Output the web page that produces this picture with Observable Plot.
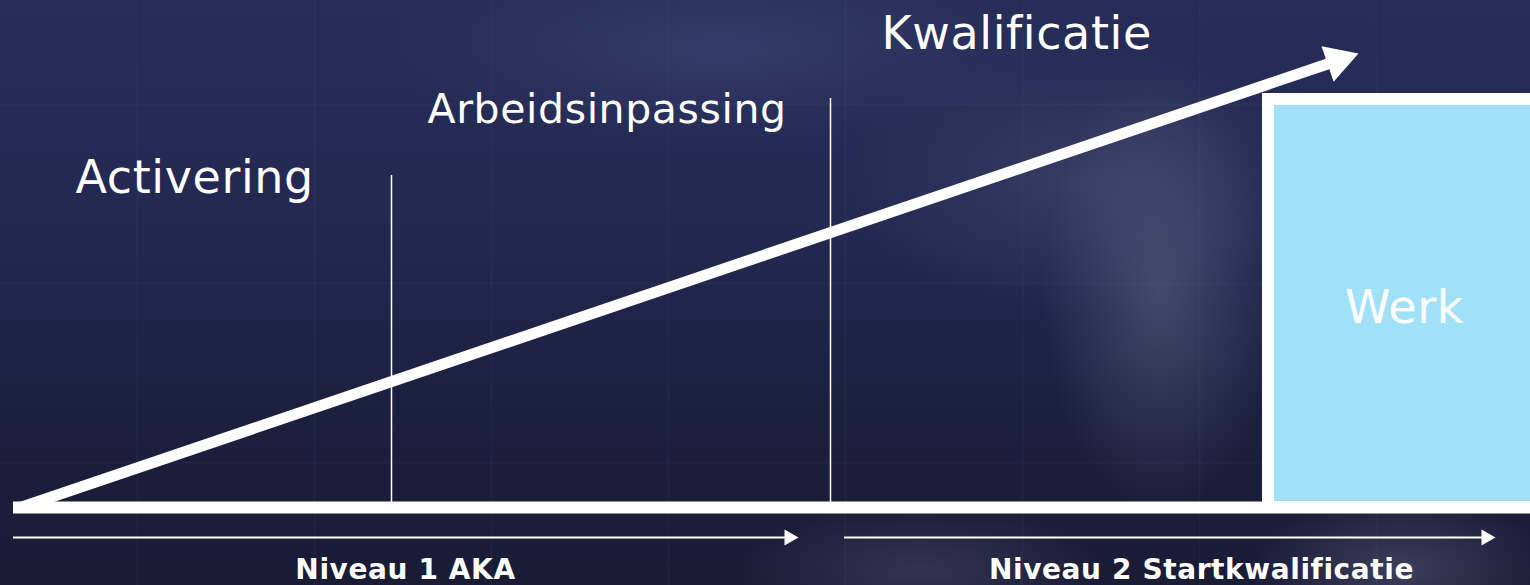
<!DOCTYPE html>
<html>
<head>
<meta charset="utf-8">
<script src="https://cdn.jsdelivr.net/npm/d3@7"></script>
<script src="https://cdn.jsdelivr.net/npm/@observablehq/plot@0.6"></script>
<style>
  html, body { margin: 0; padding: 0; width: 1530px; height: 585px; overflow: hidden; }
  body {
    background:
      radial-gradient(ellipse 140px 260px at 1160px 290px, rgba(96,100,130,0.55), rgba(96,100,130,0) 85%),
      radial-gradient(ellipse 300px 170px at 1080px 180px, rgba(88,94,130,0.35), rgba(88,94,130,0) 80%),
      radial-gradient(ellipse 420px 120px at 720px 50px, rgba(80,90,140,0.32), rgba(80,90,140,0) 80%),
      radial-gradient(ellipse 180px 90px at 1400px 570px, rgba(88,90,118,0.55), rgba(88,90,118,0) 85%),
      radial-gradient(ellipse 220px 80px at 920px 570px, rgba(78,82,112,0.45), rgba(78,82,112,0) 85%),
      linear-gradient(180deg, #262d58 0%, #222850 40%, #1b1e3c 75%, #1a1c36 100%);
  }
  #chart svg { display: block; overflow: hidden; }
</style>
</head>
<body>
<div id="chart"></div>
<script>
// ---- data (x: px from left, y: px above the baseline) ----
const stageLabels   = ["Activering", "Arbeidsinpassing", "Kwalificatie"];
const stageLabelX   = [75, 427, 881];
const stageLabelY   = [315, 385, 459];
const stageFontSize = [46, 41, 46];

const dividerX   = [391, 830];
const dividerTop = [332, 409];

const arrowStart = [20, 0];
const arrowTip   = [1358, 454];

const baselineX = [13, 1530];

const levelLabels = ["Niveau 1 AKA", "Niveau 2 Startkwalificatie"];
const levelStart  = [13, 844];
const levelEnd    = [798, 1495];
const levelY      = -30;
const levelLabelX = [405, 1201];
const levelLabelY = -71;

const goalLabel  = "Werk";
const goalX      = [1268, 1545];
const goalTop    = 408;
const goalLabelX = 1404;
const goalLabelY = 185;

const gridX = [137, 314, 491, 668, 845, 1022, 1199, 1376];
const gridY = [403, 224, 45];

// ---- derived tables ----
const stages = stageLabels.map((t, i) => ({text: t, x: stageLabelX[i], y: stageLabelY[i], size: stageFontSize[i]}));
const dividers = dividerX.map((x, i) => ({x, top: dividerTop[i]}));
const levels = levelLabels.map((t, i) => ({text: t, x1: levelStart[i], x2: levelEnd[i], lx: levelLabelX[i]}));

const mainR = 14, smallR = 6;
const tipOffset = r => 2 * Math.sqrt(Math.PI * r * r / (3 * Math.sqrt(3)));
const dx = arrowTip[0] - arrowStart[0], dy = arrowTip[1] - arrowStart[1];
const len = Math.hypot(dx, dy);
const ux = dx / len, uy = dy / len;
const angle = Math.atan2(dy, dx) * 180 / Math.PI;
const mainHead = {x: arrowTip[0] - ux * tipOffset(mainR), y: arrowTip[1] - uy * tipOffset(mainR)};
const mainLine = [{x1: arrowStart[0], y1: arrowStart[1], x2: mainHead.x, y2: mainHead.y}];
const smallHeads = levels.map(d => ({x: d.x2 - tipOffset(smallR), y: levelY}));

const W = "#ffffff";
const font = "DejaVu Sans, Verdana, sans-serif";

const chart = Plot.plot({
  width: 1530,
  height: 585,
  margin: 0,
  x: {domain: [0, 1530], axis: null},
  y: {domain: [-78, 507], axis: null},
  style: {background: "transparent", overflow: "hidden"},
  marks: [
    // faint background grid
    Plot.ruleX(gridX, {stroke: "#8a95c8", strokeOpacity: 0.05, strokeWidth: 2}),
    Plot.ruleY(gridY, {stroke: "#8a95c8", strokeOpacity: 0.05, strokeWidth: 2}),
    // stage dividers
    Plot.ruleX(dividers, {x: "x", y1: 0, y2: "top", stroke: W, strokeWidth: 1.5}),
    // goal box
    Plot.rect([0], {x1: goalX[0], x2: goalX[1], y1: 0, y2: goalTop, fill: "#a0e1f8", stroke: W, strokeWidth: 12}),
    Plot.text([goalLabel], {x: goalLabelX, y: goalLabelY, text: d => d, fill: W, fontSize: 46, fontFamily: font, textAnchor: "middle", lineAnchor: "bottom"}),
    // baseline
    Plot.ruleY([0], {x1: baselineX[0], x2: baselineX[1], stroke: W, strokeWidth: 12}),
    // main progress arrow
    Plot.link(mainLine, {x1: "x1", y1: "y1", x2: "x2", y2: "y2", stroke: W, strokeWidth: 11}),
    Plot.dot([mainHead], {x: "x", y: "y", r: mainR, symbol: "triangle", fill: W, stroke: "none", rotate: 90 - angle}),
    // level arrows
    Plot.ruleY(levels, {x1: "x1", x2: d => d.x2 - tipOffset(smallR), y: levelY, stroke: W, strokeWidth: 2}),
    Plot.dot(smallHeads, {x: "x", y: "y", r: smallR, symbol: "triangle", fill: W, stroke: "none", rotate: 90}),
    Plot.text(levels, {x: "lx", y: levelLabelY, text: "text", fill: W, fontSize: 28, fontWeight: "bold", fontFamily: font, textAnchor: "middle", lineAnchor: "bottom"}),
    // stage labels
    ...stages.map(s => Plot.text([s], {x: "x", y: "y", text: "text", fill: W, fontSize: s.size, fontFamily: font, textAnchor: "start", lineAnchor: "bottom"}))
  ]
});
d3.select(chart).selectAll("text").style("letter-spacing", "0.6px");
document.getElementById("chart").appendChild(chart);
</script>
</body>
</html>
